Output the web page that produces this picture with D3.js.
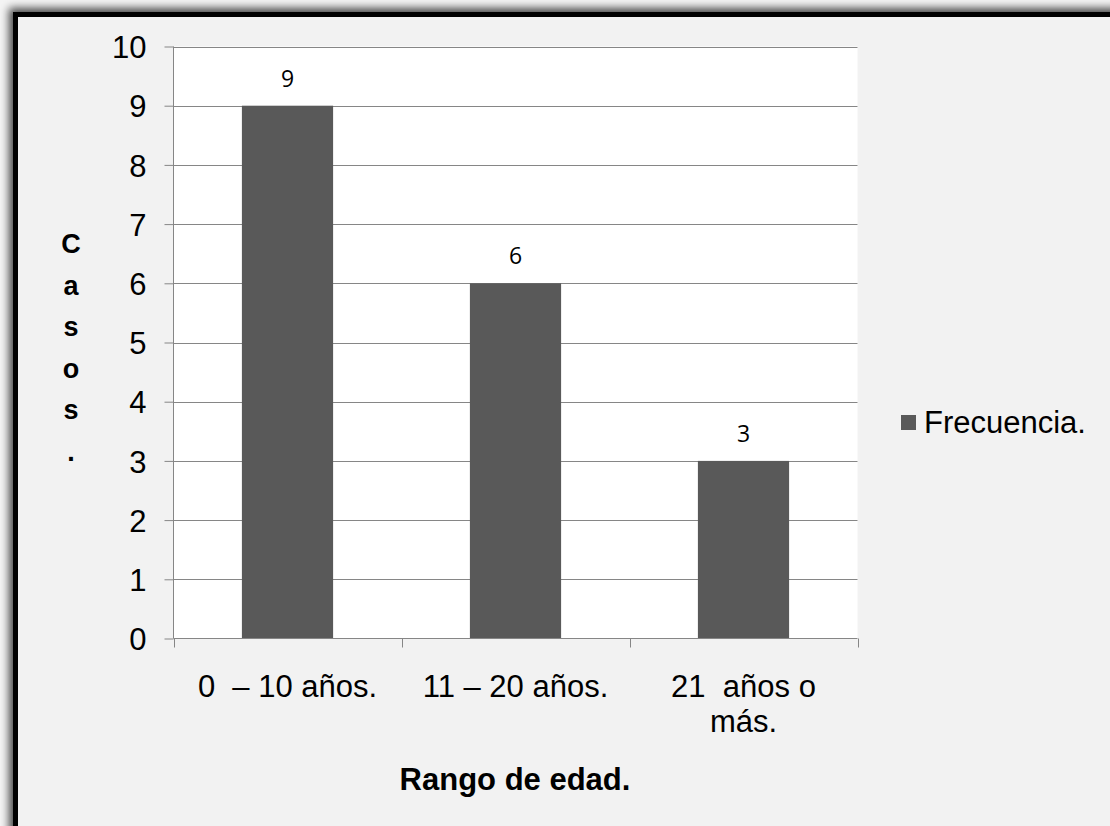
<!DOCTYPE html>
<html><head><meta charset="utf-8">
<script src="https://cdn.jsdelivr.net/npm/d3@7"></script>
<style>html,body{margin:0;padding:0;background:#f4f4f4;overflow:hidden} text{white-space:pre}</style>
</head><body>
<svg id="c" width="1110" height="826"></svg>
<script>
const categories = [["0  – 10 años."], ["11 – 20 años."], ["21  años o", "más."]];
const categoryKeys = ["0-10", "11-20", "21+"];
const values = [9, 6, 3];
const yTicks = [0,1,2,3,4,5,6,7,8,9,10];
const seriesName = "Frecuencia.";
const yTitle = ["C","a","s","o","s","."];
const xTitle = "Rango de edad.";

const svg = d3.select("#c");
const defs = svg.append("defs");
const f = defs.append("filter").attr("id","sh").attr("x","-10%").attr("y","-10%").attr("width","120%").attr("height","120%");
f.append("feGaussianBlur").attr("stdDeviation", 4);

// shadow
svg.append("rect").attr("x", 9).attr("y", 8).attr("width", 1200).attr("height", 900)
  .attr("fill", "#000").attr("opacity", 0.7).attr("filter", "url(#sh)");
// frame
svg.append("rect").attr("x", 15.5).attr("y", 14.5).attr("width", 1200).attr("height", 900)
  .attr("fill", "#f2f2f2").attr("stroke", "#000").attr("stroke-width", 5);

const L = 173.5, R = 857.5, T = 46.5, B = 638.5;
const x = d3.scaleBand().domain(categoryKeys).range([L, R]).paddingInner(0.6).paddingOuter(0.3);
const y = d3.scaleLinear().domain([0, 10]).range([B, T]);

svg.append("rect").attr("x", L).attr("y", T).attr("width", R - L).attr("height", B - T).attr("fill", "#fff");

const font = "Liberation Sans, Arial, sans-serif";

// gridlines
svg.append("g").selectAll("line").data(yTicks.filter(d => d > 0)).join("line")
  .attr("x1", L).attr("x2", R).attr("y1", d => Math.round(y(d)) + 0.5).attr("y2", d => Math.round(y(d)) + 0.5)
  .attr("stroke", "#868686").attr("stroke-width", 1);

// y axis
const yAxis = svg.append("g").attr("transform", `translate(${L},0)`)
  .call(d3.axisLeft(y).tickValues(yTicks).tickSize(9).tickPadding(18).tickFormat(d3.format("d")));
yAxis.select(".domain").attr("stroke", "#868686").attr("d", `M0,${T}V${B}`);
yAxis.selectAll(".tick line").attr("stroke", "#868686");
yAxis.selectAll(".tick text").attr("font-family", font).attr("font-size", 31).attr("fill", "#000").attr("dy", "0.36em");

// bars
svg.append("g").selectAll("rect").data(values).join("rect")
  .attr("x", (d, i) => x(categoryKeys[i])).attr("width", x.bandwidth())
  .attr("y", d => y(d)).attr("height", d => B - y(d)).attr("fill", "#595959");

// x axis
const step = (R - L) / categoryKeys.length;
const boundaries = d3.range(categoryKeys.length + 1).map(i => L + i * step);
svg.append("line").attr("x1", L).attr("x2", R).attr("y1", B).attr("y2", B).attr("stroke", "#868686");
svg.append("g").selectAll("line").data(boundaries).join("line")
  .attr("x1", d => Math.round(d) + 0.5).attr("x2", d => Math.round(d) + 0.5).attr("y1", B).attr("y2", B + 9)
  .attr("stroke", "#868686");

// x labels
const xl = svg.append("g").selectAll("text").data(categories).join("text")
  .attr("x", (d, i) => x(categoryKeys[i]) + x.bandwidth() / 2)
  .attr("y", 697).attr("text-anchor", "middle")
  .attr("font-family", font).attr("font-size", 31).attr("fill", "#000");
xl.each(function(d) {
  const t = d3.select(this);
  d.forEach((line, j) => t.append("tspan").attr("x", t.attr("x")).attr("dy", j === 0 ? 0 : 35).text(line));
});

// data labels
svg.append("g").selectAll("text").data(values).join("text")
  .attr("x", (d, i) => x(categoryKeys[i]) + x.bandwidth() / 2)
  .attr("y", d => y(d) - 19).attr("text-anchor", "middle")
  .attr("font-family", "Open Sans, sans-serif").attr("font-size", 23).attr("fill", "#000")
  .text(d => d);

// y title
svg.append("g").selectAll("text").data(yTitle).join("text")
  .attr("x", 71).attr("y", (d, i) => 253 + i * 41.5).attr("text-anchor", "middle")
  .attr("font-family", font).attr("font-weight", "bold").attr("font-size", 27).attr("fill", "#000")
  .text(d => d);

// x title
svg.append("text").attr("x", 515).attr("y", 790).attr("text-anchor", "middle")
  .attr("font-family", font).attr("font-weight", "bold").attr("font-size", 31).attr("fill", "#000")
  .text(xTitle);

// legend
svg.append("rect").attr("x", 901).attr("y", 415).attr("width", 15).attr("height", 15).attr("fill", "#595959");
svg.append("text").attr("x", 924).attr("y", 433).attr("font-family", font).attr("font-size", 31).attr("fill", "#000")
  .text(seriesName);
</script>
</body></html>
